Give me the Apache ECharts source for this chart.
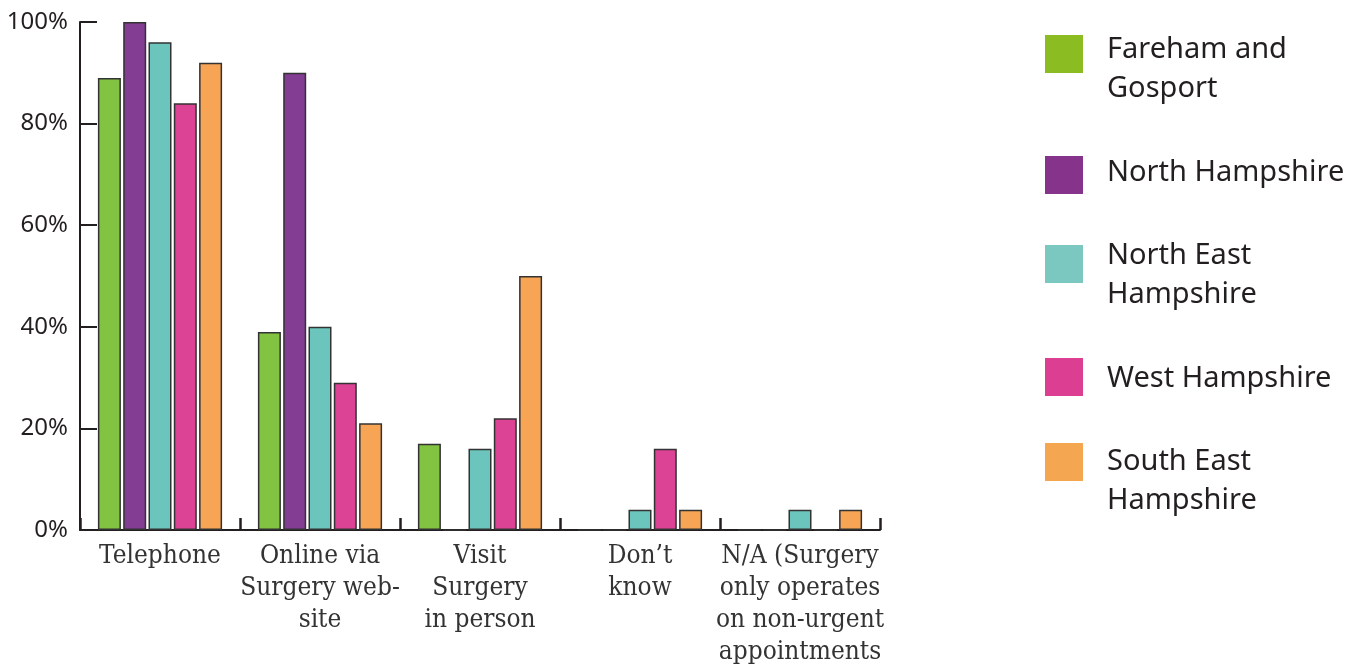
<!DOCTYPE html>
<html>
<head>
<meta charset="utf-8">
<script src="https://cdn.jsdelivr.net/npm/echarts@6/dist/echarts.min.js"></script>
<style>
  html, body { margin: 0; padding: 0; background: #fff; }
  #chart { width: 1362px; height: 664px; }
</style>
</head>
<body>
<div id="chart"></div>
<script>
// How patients can book an urgent appointment, by area (% of surgeries)
const categories = [
  'Telephone',
  'Online via\nSurgery web-\nsite',
  'Visit\nSurgery\nin person',
  'Don\u2019t\nknow',
  'N/A (Surgery\nonly operates\non non-urgent\nappointments'
];
const seriesNames = [
  'Fareham and\nGosport',
  'North Hampshire',
  'North East\nHampshire',
  'West Hampshire',
  'South East\nHampshire'
];
const farehamGosport   = [89, 39, 17, 0, 0];
const northHampshire   = [100, 90, 0, 0, 0];
const northEastHants   = [96, 40, 16, 4, 4];
const westHampshire    = [84, 29, 22, 16, 0];
const southEastHants   = [92, 21, 50, 4, 4];
const yTicks = [0, 20, 40, 60, 80, 100];

const values = [farehamGosport, northHampshire, northEastHants, westHampshire, southEastHants];
const barColors = ['#82c341', '#833d92', '#6cc5bd', '#dc4394', '#f8a455'];
const legendColors = ['#8bbd22', '#86338b', '#7ac8c0', '#dc3f92', '#f5a650'];
// key swatch tops and key text block tops
const swatchTops = [35, 156, 245, 358, 443];
const keyTextTops = [30, 153, 236, 359, 442];
const ink = '#231f20';

const series = seriesNames.map((name, i) => ({
  name: name,
  type: 'bar',
  data: values[i],
  barWidth: 23,
  barGap: '10%',
  itemStyle: { color: barColors[i], borderColor: '#333', borderWidth: 1.5 }
}));

// each key entry = a swatch-only legend plus a text-only legend
const legends = [];
seriesNames.forEach((name, i) => {
  legends.push({
    left: 1045,
    top: swatchTops[i],
    padding: 0,
    itemWidth: 38,
    itemHeight: 38,
    selectedMode: false,
    icon: 'rect',
    formatter: () => '',
    data: [{ name: name, itemStyle: { color: legendColors[i], borderWidth: 0 } }]
  });
  legends.push({
    left: 1102,
    top: keyTextTops[i],
    padding: 0,
    itemWidth: 0,
    itemHeight: 0,
    selectedMode: false,
    icon: 'none',
    data: [{ name: name }],
    textStyle: {
      fontFamily: 'Noto Sans',
      fontSize: 29,
      lineHeight: 39,
      color: ink
    }
  });
});

const chart = echarts.init(document.getElementById('chart'), null, { renderer: 'canvas' });
chart.setOption({
  animation: false,
  legend: legends,
  grid: { left: 80, right: 482, top: 22, bottom: 134, containLabel: false, outerBoundsMode: 'none' },
  xAxis: {
    type: 'category',
    data: categories,
    axisLine: { lineStyle: { color: ink, width: 2 } },
    axisTick: { show: true, inside: true, length: 12, lineStyle: { color: ink, width: 2.5 } },
    axisLabel: {
      interval: 0,
      margin: 10,
      fontFamily: 'DejaVu Serif Condensed',
      fontSize: 26,
      lineHeight: 32,
      color: '#333',
      align: 'center',
      verticalAlign: 'top'
    }
  },
  yAxis: {
    type: 'value',
    min: yTicks[0],
    max: yTicks[yTicks.length - 1],
    interval: 20,
    axisLine: { show: true, lineStyle: { color: ink, width: 2 } },
    axisTick: { show: true, inside: true, length: 17, lineStyle: { color: ink, width: 2 } },
    splitLine: { show: false },
    axisLabel: {
      margin: 12,
      fontFamily: 'Noto Sans',
      fontSize: 24,
      color: ink,
      formatter: '{value}%'
    }
  },
  series: series
});
</script>
</body>
</html>
